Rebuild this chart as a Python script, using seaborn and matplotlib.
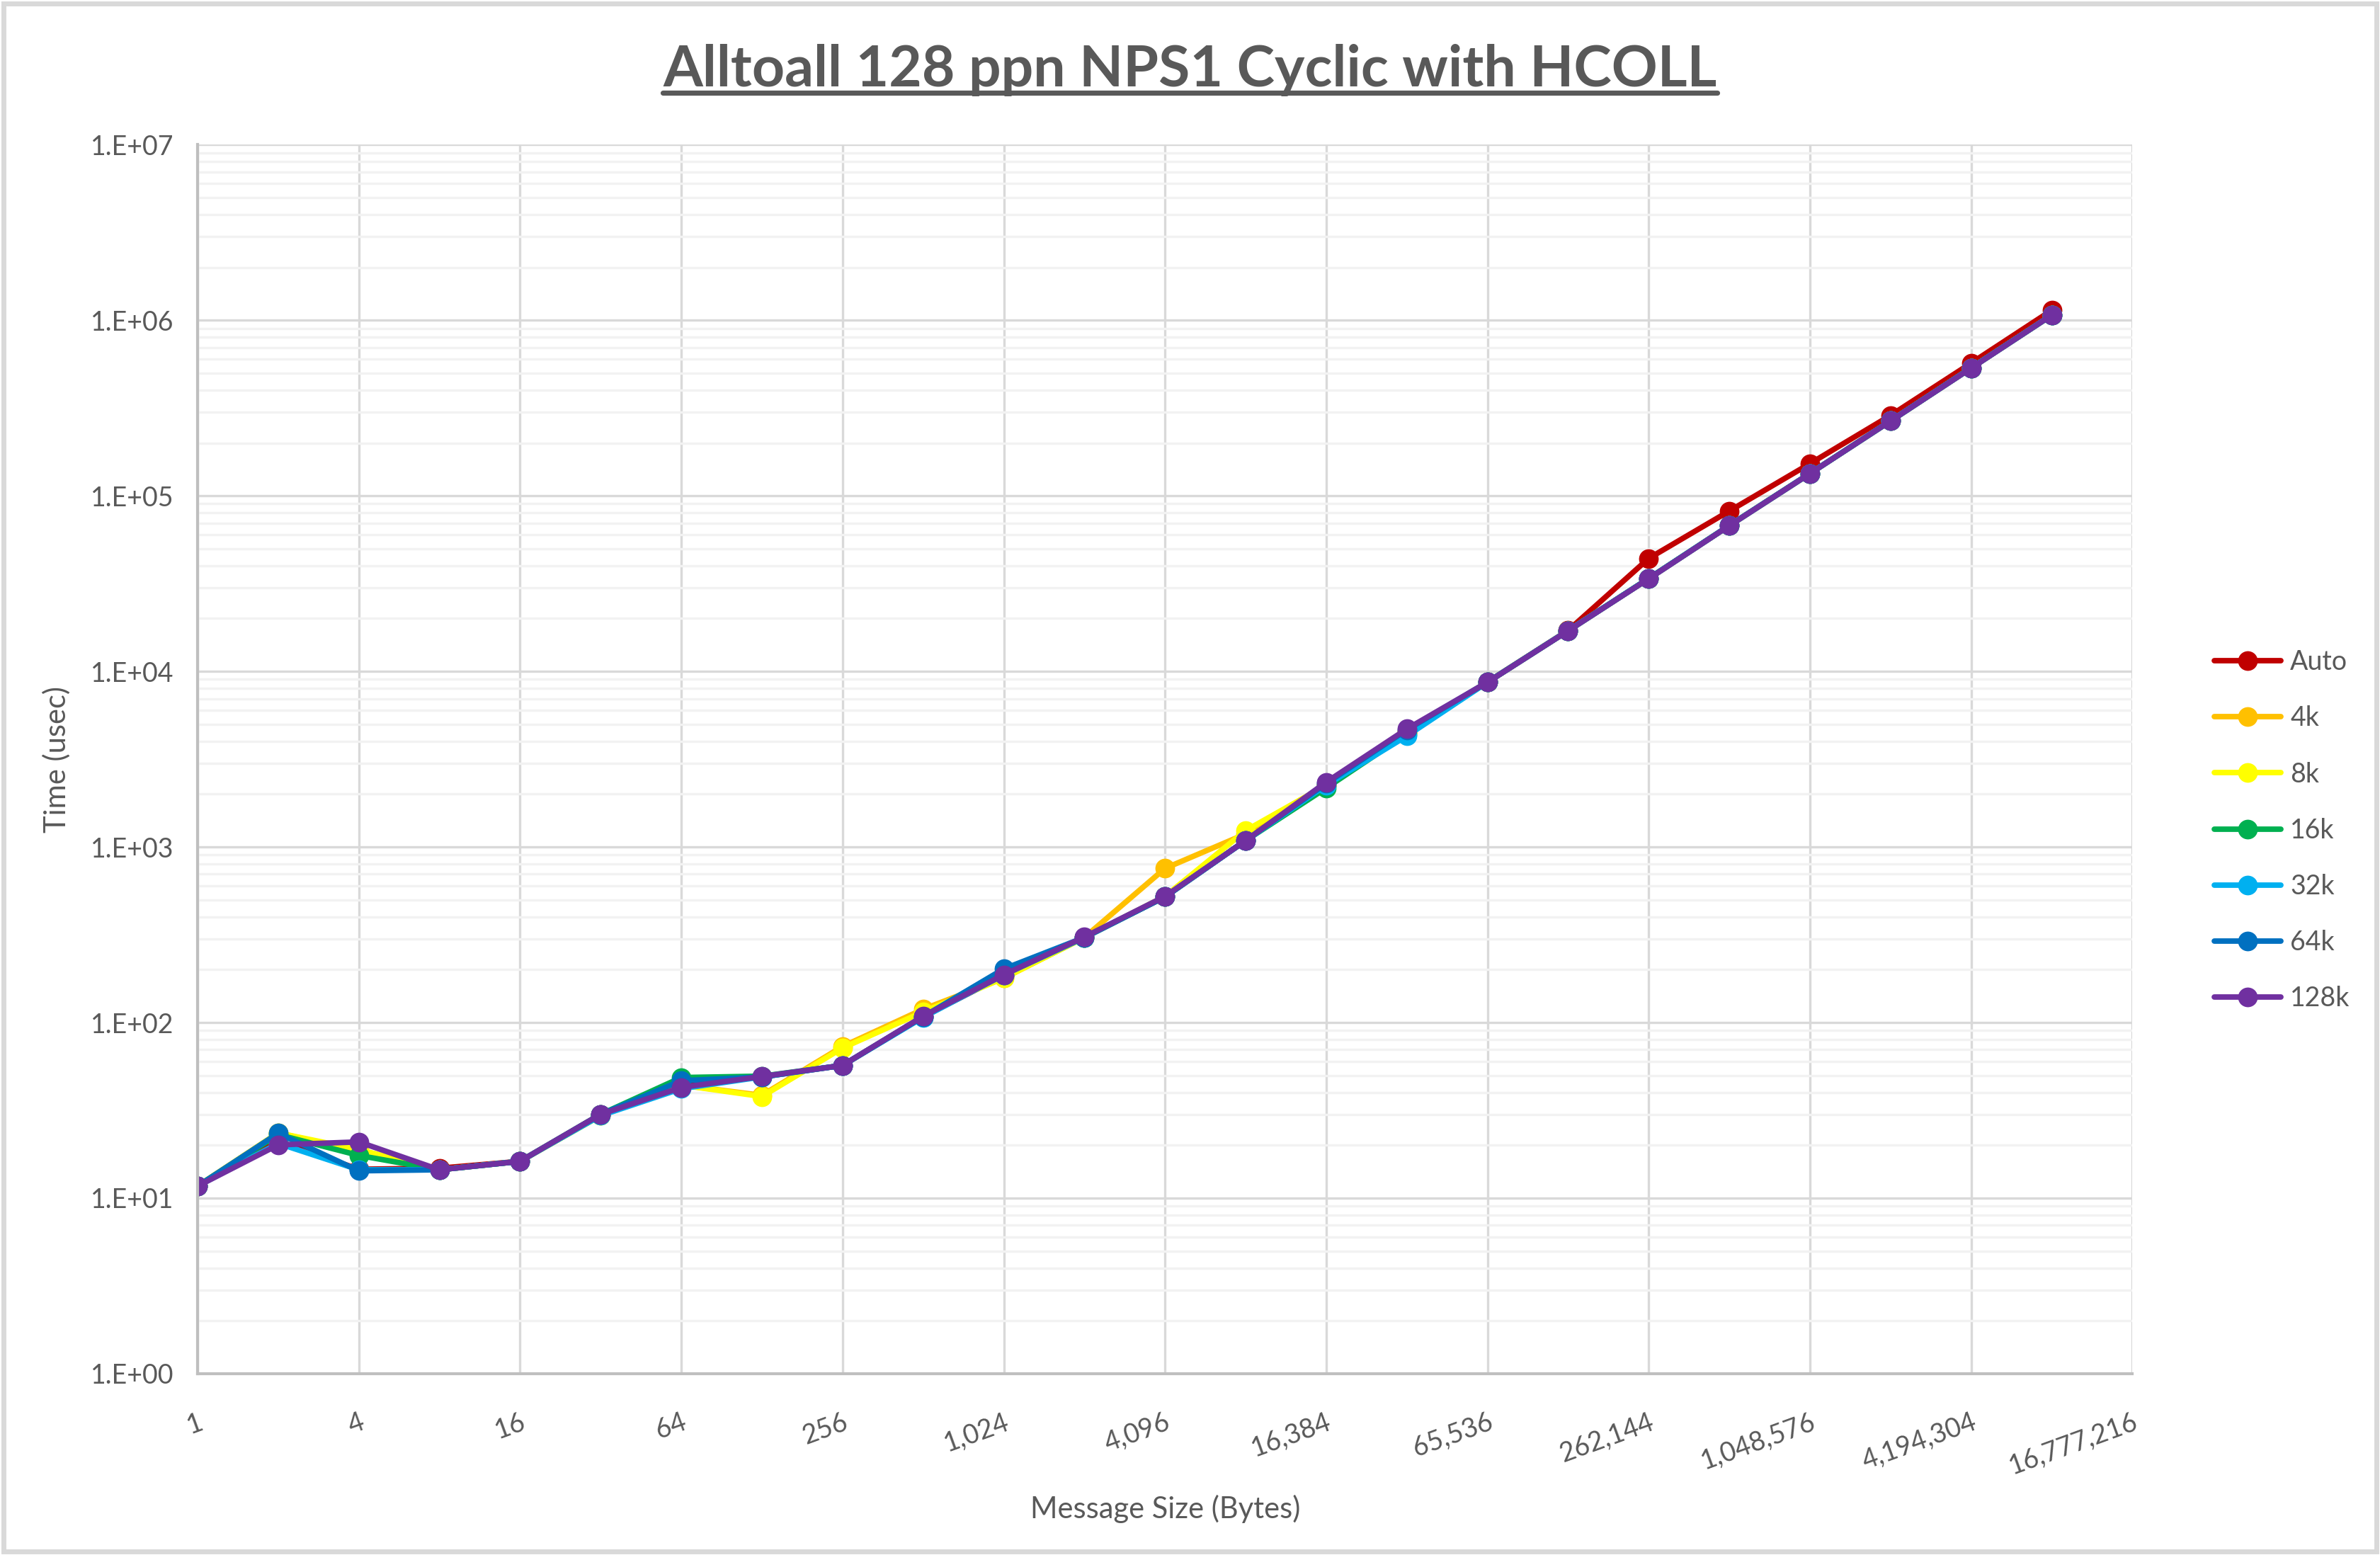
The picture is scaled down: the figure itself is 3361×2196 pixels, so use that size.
import numpy as np
import pandas as pd
import matplotlib
matplotlib.use("Agg")
import matplotlib.pyplot as plt
import seaborn as sns
from matplotlib.ticker import FixedLocator, FuncFormatter, NullFormatter
from matplotlib.lines import Line2D
from matplotlib.patches import Rectangle

# message sizes in bytes
msg_sizes = [1, 2, 4, 8, 16, 32, 64, 128, 256, 512, 1024, 2048, 4096, 8192,
             16384, 32768, 65536, 131072, 262144, 524288, 1048576, 2097152,
             4194304, 8388608]

# time (usec) per series
auto = [11.7, 21.0, 14.6, 14.8, 16.2, 30.0, 45.0, 49.0, 57.0, 108.0, 185.0, 305.0,
        520.0, 1090.0, 2250.0, 4550.0, 8700.0, 17100.0, 44000.0, 81900.0,
        152500.0, 287000.0, 570000.0, 1140000.0]
k4 = [11.7, 23.5, 18.5, 14.5, 16.2, 29.5, 44.0, 38.5, 73.0, 119.0, 179.0, 305.0,
      755.0, 1186.0, 2250.0, 4500.0, 8680.0, 17050.0, 33800.0, 67700.0,
      134000.0, 267000.0, 535000.0, 1070000.0]
k8 = [11.7, 23.5, 18.9, 14.5, 16.2, 29.5, 44.0, 37.9, 71.6, 115.0, 179.0, 305.0,
      523.0, 1239.0, 2250.0, 4500.0, 8680.0, 17050.0, 33800.0, 67700.0,
      134000.0, 267000.0, 535000.0, 1070000.0]
k16 = [11.7, 23.0, 17.5, 14.5, 16.2, 30.0, 48.6, 49.5, 57.0, 108.0, 187.0, 305.0,
       520.0, 1087.0, 2168.0, 4400.0, 8680.0, 17050.0, 33800.0, 67700.0,
       134000.0, 267000.0, 535000.0, 1070000.0]
k32 = [11.7, 20.5, 14.5, 14.5, 16.2, 29.5, 42.0, 49.0, 57.0, 107.0, 187.0, 305.0,
       520.0, 1087.0, 2250.0, 4290.0, 8680.0, 17050.0, 33800.0, 67700.0,
       134000.0, 267000.0, 535000.0, 1070000.0]
k64 = [11.7, 23.4, 14.3, 14.5, 16.2, 30.0, 46.6, 49.0, 57.0, 108.0, 202.0, 305.0,
       520.0, 1087.0, 2300.0, 4650.0, 8680.0, 17050.0, 33800.0, 67700.0,
       134000.0, 267000.0, 535000.0, 1070000.0]
k128 = [11.7, 20.1, 20.9, 14.5, 16.2, 30.0, 42.7, 49.3, 57.0, 108.6, 187.0, 307.0,
        523.0, 1087.0, 2340.0, 4700.0, 8670.0, 17030.0, 33700.0, 67600.0,
        133900.0, 267000.0, 534000.0, 1070000.0]

series_names = ["Auto", "4k", "8k", "16k", "32k", "64k", "128k"]
series_values = [auto, k4, k8, k16, k32, k64, k128]
colors = ["#C00000", "#FFC000", "#FFFF00", "#00B050", "#00B0F0", "#0070C0", "#7030A0"]

df = pd.concat(
    [pd.DataFrame({"size": msg_sizes, "time": vals, "series": name})
     for name, vals in zip(series_names, series_values)],
    ignore_index=True,
)

sns.set_style("white")
plt.rcParams["font.family"] = ["Lato", "DejaVu Sans"]
text_gray = "#595959"

fig = plt.figure(figsize=(16.805, 10.98), dpi=200)
ax = fig.add_axes([0.083, 0.1166, 0.813, 0.7904])

sns.lineplot(data=df, x="size", y="time", hue="series", hue_order=series_names,
             palette=colors, marker="o", markersize=10, markeredgewidth=0,
             linewidth=2.8, sort=False, estimator=None, ax=ax)

ax.set_xscale("log", base=2)
ax.set_yscale("log")
ax.set_xlim(1, 2 ** 24)
ax.set_ylim(1, 1e7)

xt = [4 ** k for k in range(13)]
ax.xaxis.set_major_locator(FixedLocator(xt))
ax.xaxis.set_minor_locator(FixedLocator([]))
ax.xaxis.set_major_formatter(FuncFormatter(lambda v, p: f"{int(round(v)):,}"))
ax.yaxis.set_major_locator(FixedLocator([10 ** k for k in range(8)]))
ax.yaxis.set_major_formatter(FuncFormatter(lambda v, p: f"1.E+{int(round(np.log10(v))):02d}"))
ax.yaxis.set_minor_locator(FixedLocator([m * 10 ** k for k in range(7) for m in range(2, 10)]))
ax.yaxis.set_minor_formatter(NullFormatter())

ax.grid(True, which="major", axis="both", color="#D9D9D9", linewidth=1.2)
ax.grid(True, which="minor", axis="y", color="#F2F2F2", linewidth=1.2)
ax.set_axisbelow(True)
for side in ["top", "right"]:
    ax.spines[side].set_visible(False)
for side in ["left", "bottom"]:
    ax.spines[side].set_color("#BFBFBF")
    ax.spines[side].set_linewidth(1.5)

ax.tick_params(axis="both", which="both", length=0, colors=text_gray, labelsize=13.5)
ax.tick_params(axis="y", pad=12)
ax.tick_params(axis="x", pad=18)
for lbl in ax.get_xticklabels():
    lbl.set_rotation(20)
    lbl.set_ha("right")
    lbl.set_rotation_mode("anchor")

ax.set_xlabel("Message Size (Bytes)", fontsize=15, color=text_gray, labelpad=8)
ax.set_ylabel("Time (usec)", fontsize=15, color=text_gray, labelpad=10)

handles, labels = ax.get_legend_handles_labels()
ax.legend(handles, labels, loc="center left", bbox_to_anchor=(0.926, 0.466),
          bbox_transform=fig.transFigure, frameon=False, fontsize=13.5,
          labelcolor=text_gray, handlelength=2.5, handletextpad=0.35,
          labelspacing=1.15, borderaxespad=0)

title = fig.text(0.5, 0.955, "Alltoall 128 ppn NPS1 Cyclic with HCOLL", ha="center",
                 va="center", fontsize=29, fontweight="bold", color=text_gray)

# underline the title
fig.canvas.draw()
bb = title.get_window_extent().transformed(fig.transFigure.inverted())
fig.add_artist(Line2D([bb.x0, bb.x1], [bb.y0 + 0.002, bb.y0 + 0.002],
                      color=text_gray, linewidth=2.6, transform=fig.transFigure))

fig.add_artist(Rectangle((0.0015, 0.0025), 0.997, 0.995, fill=False,
                         edgecolor="#D9D9D9", linewidth=2.5, transform=fig.transFigure))

fig.savefig("out.png", dpi=200, facecolor="white")
